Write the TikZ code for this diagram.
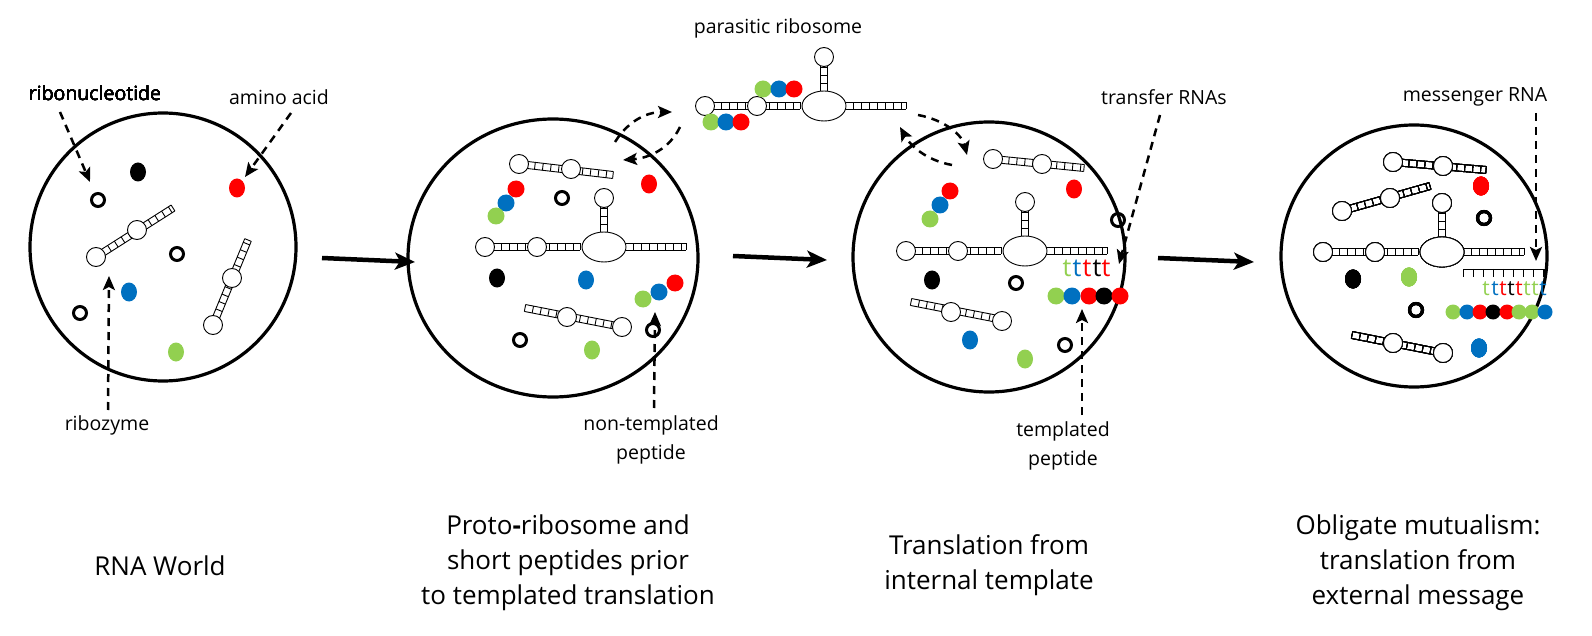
\documentclass[tikz,border=0pt]{standalone}
\usepackage{fontspec}
\setmainfont{Open Sans}
\usetikzlibrary{arrows.meta,shapes.geometric}
\definecolor{cr}{HTML}{FF0000}
\definecolor{cb}{HTML}{0070C0}
\definecolor{cg}{HTML}{92D050}
\newcommand\myLad[4]{%
 \pgfmathsetmacro\myAng{atan2(-(#4-#2),#3-#1)}%
 \pgfmathsetmacro\myLen{veclen(#3-#1,#4-#2)}%
 \begin{scope}[shift={(#1,#2)},rotate=\myAng]
 \draw[lad] (0,-3.5)--(\myLen,-3.5) (0,3.5)--(\myLen,3.5);
 \foreach \i in {0,8,...,\myLen} \draw[lad] (\i,-3.5)--(\i,3.5);
 \draw[lad] (\myLen,-3.5)--(\myLen,3.5);
 \end{scope}}
\newcommand\myLp[2]{\filldraw[loopc] (#1,#2) circle (9.5);}
\newcommand\myOp[2]{\draw[opc] (#1,#2) circle (6.5);}
\newcommand\myBd[3]{\fill[#3] (#1,#2) ellipse[x radius=8,y radius=9.5];}
\newcommand\myPb[3]{\fill[#3] (#1,#2) circle (8.5);}
\newcommand\mySb[3]{\fill[#3] (#1,#2) circle (7.5);}
\newcommand\myRibo[2]{%
 \begin{scope}[shift={(#1,#2)}]
 \myLad{0}{0}{95}{0}\myLad{140}{0}{201}{0}\myLad{119}{-15}{119}{-48}
 \myLp{0}{0}\myLp{52}{0}\myLp{119}{-49}
 \filldraw[loopc] (119,0) ellipse[x radius=22,y radius=15];
 \end{scope}}
\begin{document}
\begin{tikzpicture}[x=1pt,y=-1pt,
 lad/.style={line width=0.9pt},
 loopc/.style={fill=white,draw=black,line width=0.9pt},
 opc/.style={draw=black,line width=3pt},
 cell/.style={line width=3.2pt},
 big/.style={line width=4.5pt,-{Stealth[length=20pt,width=17pt,inset=5pt]}},
 da/.style={line width=2.5pt,dash pattern=on 8pt off 6pt,-{Stealth[length=14pt,width=12pt,inset=3pt]}},
 lab/.style={font=\fontsize{19.5}{29}\selectfont,align=center},
 ttl/.style={font=\fontsize{26}{35}\selectfont,align=center},
 tt/.style={font=\fontsize{25}{25}\selectfont,inner sep=0pt}]
\useasboundingbox (0,0) rectangle (1592,636);
% cells
\draw[cell] (163,247) ellipse[x radius=133,y radius=134];
\draw[cell] (553,258) ellipse[x radius=145,y radius=139];
\draw[cell] (989,257) ellipse[x radius=136,y radius=135];
\draw[cell] (1414,256) ellipse[x radius=133,y radius=131];
\coordinate (a1) at (322,258); \coordinate (b1) at (415,262);
\coordinate (a2) at (733,256); \coordinate (b2) at (827,260);
\coordinate (a3) at (1158,258); \coordinate (b3) at (1254,262);
\draw[big] (a1)--(b1); \draw[big] (a2)--(b2); \draw[big] (a3)--(b3);
% ---- cell 1
\myLad{96}{257}{173}{208}\myLp{96}{257}\myLp{137}{230}
\myLad{213}{325}{248}{240}\myLp{213}{325}\myLp{232}{278}
\myOp{98}{200}\myOp{177}{254}\myOp{80}{313}
\myBd{138}{172}{black}\myBd{237}{188}{cr}\myBd{129}{292}{cb}\myBd{176}{352}{cg}
% ---- cell 2
\myLad{519}{164}{613}{175}\myLp{519}{164}\myLp{571}{169}
\myRibo{485}{247}
\myLad{525}{308}{622}{327}\myLp{567}{317}\myLp{622}{327}
\myOp{562}{198}\myOp{520}{340}\myOp{653}{330}
\myBd{497}{278}{black}\myBd{586}{280}{cb}\myBd{649}{184}{cr}\myBd{592}{350}{cg}
\myPb{516}{189}{cr}\myPb{506}{203}{cb}\myPb{496}{216}{cg}
\myPb{643}{299}{cg}\myPb{659}{292}{cb}\myPb{675}{283}{cr}
% ---- parasitic ribosome
\myRibo{705}{106}
\myPb{763}{89}{cg}\myPb{779}{89}{cb}\myPb{794}{89}{cr}
\myPb{711}{122}{cg}\myPb{726}{122}{cb}\myPb{741}{122}{cr}
% ---- cell 3
\myLad{993}{159}{1084}{168}\myLp{993}{159}\myLp{1042}{164}
\myRibo{906}{251}
\myLad{911}{302}{1003}{320}\myLp{951}{312}\myLp{1002}{321}
\myPb{950}{191}{cr}\myPb{940}{205}{cb}\myPb{930}{219}{cg}
\myBd{1074}{189}{cr}\myOp{1118}{220}\myBd{932}{280}{black}\myOp{1016}{283}
\myBd{970}{340}{cb}\myBd{1025}{359}{cg}\myOp{1065}{345}
\foreach \x/\c [count=\k] in {1067/cg,1077/cb,1087/cr,1097/black,1106/cr}
  \node[tt,text=\c] (t3\k) at (\x,268) {t};
\foreach \x/\c in {1056/cg,1072/cb,1089/cr,1104/black,1120/cr} \myPb{\x}{296}{\c}
% ---- cell 4
\myLad{1393}{162}{1486}{170}\myLp{1393}{162}\myLp{1443}{166}
\myLad{1342}{211}{1430}{186}\myLp{1342}{211}\myLp{1390}{198}
\myRibo{1323}{252}
\myLad{1352}{335}{1443}{353}\myLp{1393}{343}\myLp{1443}{353}
\myBd{1481}{186}{cr}\myOp{1484}{218}\myBd{1353}{279}{black}\myBd{1409}{277}{cg}
\myOp{1416}{310}\myBd{1479}{348}{cb}
\draw[line width=0.9pt] (1463,277)--(1463,269)--(1544,269)--(1544,277);
\foreach \i in {1,...,8} \draw[line width=0.9pt] (1463+\i*10.1,269)--(1463+\i*10.1,277);
\foreach \x/\c [count=\k] in {1486/cg,1495/cb,1503/cr,1511/black,1519/cr,1527/cg,1535/cg,1543/cb}
  \node[tt,font=\fontsize{21}{21}\selectfont,text=\c] (t4\k) at (\x,289) {t};
\foreach \x/\c in {1453/cg,1467/cb,1480/cr,1493/black,1507/cr,1519/cg,1532/cg,1545/cb} \mySb{\x}{312}{\c}
% ---- labels
\node[lab] (l1) at (95,93) {ribonucleotide};
\node[lab] (l2) at (279,97) {amino acid};
\node[lab] (l3) at (107,425) {ribozyme};
\node[lab] (l4) at (651,440) {non-templated\\peptide};
\node[lab] (l5) at (778,28) {parasitic ribosome};
\node[lab] (l6) at (1164,97) {transfer RNAs};
\node[lab] (l7) at (1063,446) {templated\\peptide};
\node[lab] (l8) at (1475,97) {messenger RNA};
\draw[da] (60,112)--(90,182);
\draw[da] (291,113)--(245,177);
\draw[da] (108,410)--(109,276);
\draw[da] (654,408)--(655,312);
\draw[da] (1082,415)--(1082,309);
\draw[da] (1160,115)--(1119,264);
\draw[da] (1536,113)--(1536,261);
% exchange arrows
\draw[da] (615,142) .. controls (630,118) and (650,112) .. (672,112);
\draw[da] (680,127) .. controls (670,148) and (650,158) .. (623,160);
\draw[da] (918,115) .. controls (945,120) and (962,135) .. (967,155);
\draw[da] (952,165) .. controls (925,160) and (910,145) .. (900,127);
% titles
\node[ttl] (T1) at (160,566) {RNA World};
\node[ttl] (T2) at (568,563) {Proto\textbf{-}ribosome and\\short peptides prior\\to templated translation};
\node[ttl] (T3) at (989,565) {Translation from\\internal template};
\node[ttl] (T4) at (1418,563) {Obligate mutualism:\\translation from\\external message};
\end{tikzpicture}
\end{document}
